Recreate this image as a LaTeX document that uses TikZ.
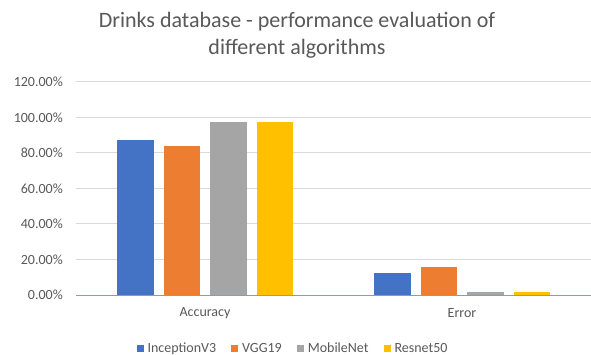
\documentclass[tikz,border=0pt]{standalone}
\usepackage{fontspec}
\setmainfont{Carlito}
\definecolor{cBlue}{HTML}{4472C4}
\definecolor{cOrange}{HTML}{ED7D31}
\definecolor{cGray}{HTML}{A5A5A5}
\definecolor{cYellow}{HTML}{FFC000}
\definecolor{txt}{HTML}{595959}
\definecolor{grid}{HTML}{D9D9D9}
\definecolor{axisline}{HTML}{7F9BD3}
\newcommand{\legsq}[1]{{\color{#1}\rule[0.5pt]{7pt}{7pt}}\hspace{4pt}}
\begin{document}
\begin{tikzpicture}[x=1pt,y=-1pt,
  titletext/.style={text=txt,font=\fontsize{22}{27}\selectfont,align=center,inner sep=0pt},
  ticklabel/.style={text=txt,font=\fontsize{14}{16}\selectfont,anchor=east,inner sep=0pt},
  catlabel/.style={text=txt,font=\fontsize{14}{16}\selectfont,anchor=center,inner sep=0pt},
  legtext/.style={text=txt,font=\fontsize{14}{16}\selectfont,anchor=center,inner sep=0pt},
  gridline/.style={draw=grid,line width=1pt}]
\useasboundingbox (0,0) rectangle (591,355);
\fill[white] (0,0) rectangle (591,355);
% title
\node[titletext] (title) at (297,35) {Drinks database - performance evaluation of\\different algorithms};
% gridlines
\foreach \v in {20,40,60,80,100,120}{
  \draw[gridline] (76,{295-1.775*\v}) -- (591,{295-1.775*\v});
}
% tick labels
\foreach \v/\lab/\nm in {0/0.00\%/t0,20/20.00\%/t20,40/40.00\%/t40,60/60.00\%/t60,80/80.00\%/t80,100/100.00\%/t100,120/120.00\%/t120}{
  \node[ticklabel] (\nm) at (63,{295-1.775*\v}) {\lab};
}
% bars
\foreach \x/\v/\c in {117/87.3/cBlue,163.5/83.9/cOrange,210/97.5/cGray,256.5/97.5/cYellow,
                      374/12.4/cBlue,420.5/15.8/cOrange,467/1.7/cGray,513.5/1.7/cYellow}{
  \fill[\c] (\x,295) rectangle ({\x+36.5},{295-1.775*\v});
}
% baseline
\draw[axisline,line width=1pt] (76,295) -- (591,295);
% category labels
\node[catlabel] (acc) at (205,313) {Accuracy};
\node[catlabel] (err) at (462,313) {Error};
% legend
\node[legtext] (legend) at (292,349) {\legsq{cBlue}InceptionV3\hspace{15pt}\legsq{cOrange}VGG19\hspace{15pt}\legsq{cGray}MobileNet\hspace{15pt}\legsq{cYellow}Resnet50};
\end{tikzpicture}
\end{document}
